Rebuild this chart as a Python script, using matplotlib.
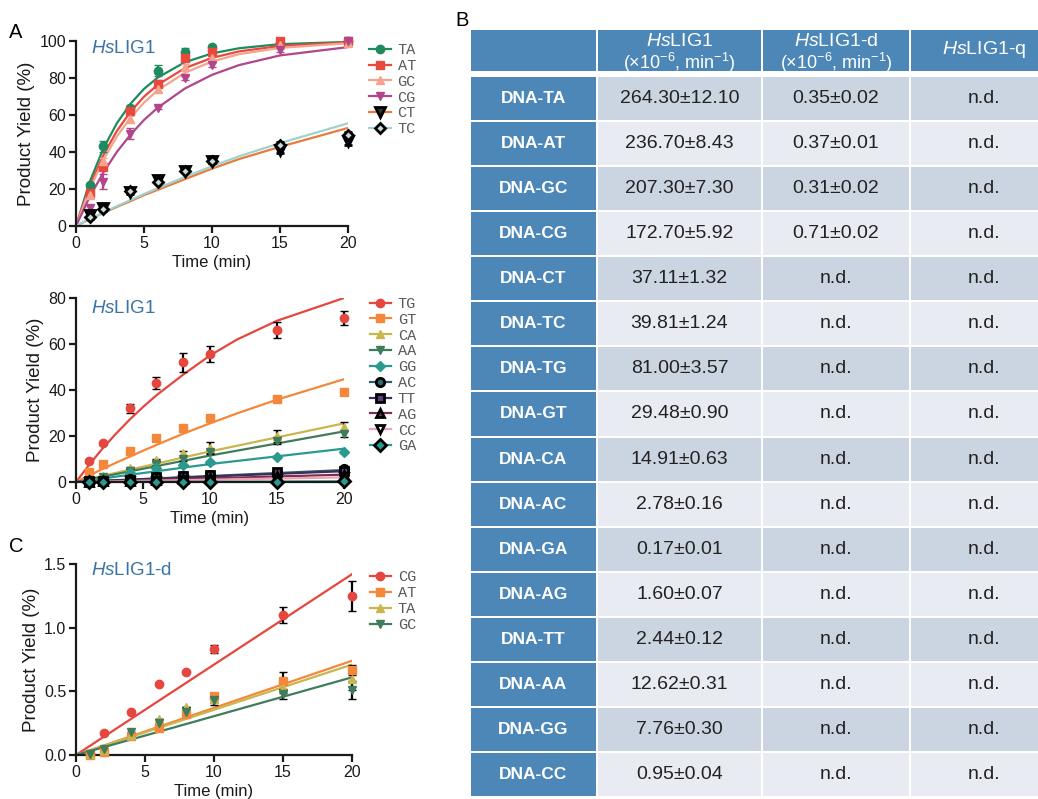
import matplotlib
matplotlib.use('Agg')
import matplotlib.pyplot as plt
from matplotlib.lines import Line2D
from matplotlib.patches import Rectangle

plt.rcParams['font.family'] = ['Liberation Sans', 'DejaVu Sans']
plt.rcParams['mathtext.fontset'] = 'custom'
plt.rcParams['mathtext.rm'] = 'Liberation Sans'
plt.rcParams['mathtext.it'] = 'Liberation Sans:italic'
plt.rcParams['mathtext.bf'] = 'Liberation Sans:bold'

# ---------------- data ----------------
time = [1, 2, 4, 6, 8, 10, 15, 20]
curve_t = [0, 1, 2, 3, 4, 5, 6, 8, 10, 12, 15, 20]
line_t = [0, 10, 20]

# panel A (top): HsLIG1, Watson-Crick + CT/TC
a1_names = ['TA', 'AT', 'GC', 'CG', 'CT', 'TC']
a1_yield = [
    [22, 43, 64, 84, 94, 97, 99, 100],
    [18, 32, 62, 77, 91, 94, 100, 100],
    [17, 35, 58, 74, 86, 91, 98, 99],
    [10, 24, 50, 64, 80, 87, 95, 100],
    [6, 9.5, 18.5, 25, 30, 35, 41, 46],
    [5, 9, 19, 24, 30, 35, 44, 49],
]
a1_err = [
    [1, 3, 1.5, 3, 2, 1, 1, 0.5],
    [1, 1.5, 2, 2, 1.5, 1, 1, 0.5],
    [1, 1.5, 2, 1.5, 1.5, 1, 1, 0.5],
    [1.5, 4, 3, 1, 1, 1, 1, 0.5],
    [1, 1, 1, 1, 1, 1, 1.5, 2],
    [1, 1, 1, 1, 1, 1, 1.5, 2],
]
a1_fit = [
    [0, 23.7, 41.7, 55.5, 66.0, 74.1, 80.2, 88.5, 93.3, 96.1, 98.3, 99.5],
    [0, 21.3, 38.1, 51.3, 61.7, 69.9, 76.3, 85.3, 90.9, 94.4, 97.3, 99.2],
    [0, 19.7, 35.6, 48.3, 58.5, 66.7, 73.3, 82.8, 88.9, 92.9, 96.3, 98.8],
    [0, 15.6, 28.8, 40.0, 49.3, 57.3, 63.9, 74.3, 81.7, 87.0, 92.2, 96.7],
    [0, 3.6, 7.0, 10.3, 13.4, 16.7, 19.5, 25.3, 31.0, 36.2, 42.8, 53.0],
    [0, 3.7, 7.3, 10.7, 14.0, 17.3, 20.4, 26.5, 32.3, 37.7, 44.8, 55.5],
]

# panel A (bottom): HsLIG1, mismatches
a2_names = ['TG', 'GT', 'CA', 'AA', 'GG', 'AC', 'TT', 'AG', 'CC', 'GA']
a2_yield = [
    [9.3, 16.8, 32, 43, 52, 55.7, 66, 71.3],
    [4.2, 8, 13.5, 19, 23.5, 28, 36, 39],
    [1, 2.5, 6, 9.5, 12.5, 15, 20, 24],
    [0.5, 2, 5, 8, 10, 13, 18, 21],
    [0.5, 1.5, 4, 6, 7.5, 8.5, 11, 13],
    [0.3, 0.6, 1.2, 2, 2.5, 3, 4, 5.5],
    [0.3, 0.5, 1, 2, 2.5, 3.2, 4.5, 4.8],
    [0.2, 0.3, 0.6, 1, 1.5, 1.8, 2.5, 3.2],
    [0.1, 0.2, 0.3, 0.6, 0.8, 1, 1.5, 2],
    [0, 0, 0.1, 0.1, 0.1, 0.2, 0.2, 0.3],
]
a2_err = [
    [0.5, 0.5, 2, 2.7, 4, 3.5, 3.5, 3],
    [0.5, 0.5, 0.5, 0.5, 0.5, 0.5, 0.5, 0.5],
    [0.3, 0.3, 0.5, 0.5, 1, 2.5, 2.5, 2],
    [0.3, 0.3, 0.5, 0.5, 1, 1, 1.5, 1.5],
    [0.3, 0.3, 0.3, 0.3, 0.5, 0.5, 0.5, 0.5],
    [0.3, 0.3, 0.3, 0.3, 0.5, 0.5, 0.8, 0.8],
    [0.3, 0.3, 0.3, 0.3, 0.5, 0.5, 0.8, 0.8],
    [0.2, 0.2, 0.2, 0.2, 0.3, 0.3, 0.5, 0.5],
    [0.1, 0.1, 0.1, 0.1, 0.2, 0.2, 0.3, 0.3],
    [0, 0, 0, 0, 0, 0, 0, 0],
]
a2_fit_tg = [0, 7.6, 14.7, 21.1, 27.1, 32.6, 37.7, 46.7, 55.0, 61.9, 70.1, 80.0]
a2_fit_gt = [0, 2.9, 5.7, 8.4, 11.0, 13.6, 16.1, 21.0, 25.5, 29.8, 35.8, 44.7]
a2_lines = [
    [0, 13.3, 25.5],
    [0, 11.5, 22],
    [0, 7.8, 14.5],
    [0, 2.6, 5.2],
    [0, 2.4, 4.7],
    [0, 1.6, 3.2],
    [0, 1.0, 2.0],
    [0, 0.1, 0.3],
]

# panel C: HsLIG1-d
c_names = ['CG', 'AT', 'TA', 'GC']
c_yield = [
    [0.01, 0.17, 0.34, 0.56, 0.65, 0.83, 1.10, 1.25],
    [0.0, 0.02, 0.15, 0.21, 0.32, 0.46, 0.58, 0.67],
    [0.01, 0.04, 0.16, 0.28, 0.38, 0.44, 0.53, 0.60],
    [0.01, 0.05, 0.18, 0.25, 0.34, 0.43, 0.48, 0.51],
]
c_err = [
    [0, 0, 0, 0, 0, 0.03, 0.06, 0.12],
    [0, 0, 0, 0, 0, 0.02, 0.07, 0.04],
    [0, 0, 0, 0, 0, 0.02, 0.04, 0.09],
    [0, 0, 0, 0, 0, 0.04, 0.04, 0.07],
]
c_lines = [[0, 0.71, 1.42], [0, 0.37, 0.74], [0, 0.355, 0.71], [0, 0.305, 0.61]]

# panel B: rate constants
b_rows = ['DNA-TA', 'DNA-AT', 'DNA-GC', 'DNA-CG', 'DNA-CT', 'DNA-TC', 'DNA-TG',
          'DNA-GT', 'DNA-CA', 'DNA-AC', 'DNA-GA', 'DNA-AG', 'DNA-TT', 'DNA-AA',
          'DNA-GG', 'DNA-CC']
lig1_k = [264.30, 236.70, 207.30, 172.70, 37.11, 39.81, 81.00, 29.48, 14.91,
          2.78, 0.17, 1.60, 2.44, 12.62, 7.76, 0.95]
lig1_sd = [12.10, 8.43, 7.30, 5.92, 1.32, 1.24, 3.57, 0.90, 0.63, 0.16, 0.01,
           0.07, 0.12, 0.31, 0.30, 0.04]
lig1d_k = [0.35, 0.37, 0.31, 0.71]
lig1d_sd = [0.02, 0.01, 0.02, 0.02]

# ---------------- styles ----------------
a1_style = [
    dict(color='#1f8a5e', marker='o', mfc='#1f8a5e', mec='#1f8a5e', ecol='#1f8a5e'),
    dict(color='#e8483e', marker='s', mfc='#e8483e', mec='#e8483e', ecol='#e8483e'),
    dict(color='#f4a48e', marker='^', mfc='#f4a48e', mec='#f4a48e', ecol='#f4a48e'),
    dict(color='#b2468c', marker='v', mfc='#b2468c', mec='#b2468c', ecol='#b2468c'),
    dict(color='#e97b3c', marker='v', mfc='#333333', mec='black', ecol='black'),
    dict(color='#9fd2cf', marker='D', mfc='#cfd8d8', mec='black', ecol='black'),
]
a2_style = [
    dict(color='#e5473e', marker='o', mfc='#e5473e', mec='#e5473e'),
    dict(color='#f5873a', marker='s', mfc='#f5873a', mec='#f5873a'),
    dict(color='#c9b64c', marker='^', mfc='#c9b64c', mec='#c9b64c'),
    dict(color='#3f7c5c', marker='v', mfc='#3f7c5c', mec='#3f7c5c'),
    dict(color='#2b9a8e', marker='D', mfc='#2b9a8e', mec='#2b9a8e'),
    dict(color='#2e5e6c', marker='o', mfc='#2e6e6a', mec='black'),
    dict(color='#3b2d5c', marker='s', mfc='#5a3f7a', mec='black'),
    dict(color='#7b3050', marker='^', mfc='#7b3050', mec='black'),
    dict(color='#efa1b6', marker='v', mfc='white', mec='black'),
    dict(color='#2b9a8e', marker='D', mfc='#2b9a8e', mec='black'),
]
c_style = [a2_style[0], a2_style[1], a2_style[2], a2_style[3]]

title_col = '#3a74a5'
W, H = 1038, 799

fig = plt.figure(figsize=(W / 100, H / 100), dpi=100)


def px_axes(x0, x1, ytop, ybot):
    return fig.add_axes([x0 / W, 1 - ybot / H, (x1 - x0) / W, (ybot - ytop) / H])


def style_axes(ax, ymax, yticks, labels):
    ax.set_xlim(0, 20)
    ax.set_ylim(0, ymax)
    for s in ['top', 'right']:
        ax.spines[s].set_visible(False)
    for s in ['left', 'bottom']:
        ax.spines[s].set_linewidth(1.6)
        ax.spines[s].set_color('#1a1a1a')
    ax.set_xticks([0, 5, 10, 15, 20])
    ax.set_yticks(yticks)
    ax.set_yticklabels(labels)
    ax.tick_params(direction='out', length=5, width=1.6, labelsize=11.5, pad=2,
                   colors='#1a1a1a')
    ax.set_xlabel('Time (min)', fontsize=12, labelpad=3, color='#1a1a1a')
    ax.set_ylabel('Product Yield (%)', fontsize=13.5, labelpad=3, color='#1a1a1a')


def add_legend(ax, names, styles, x, y, ms_list):
    handles = []
    for st, ms in zip(styles, ms_list):
        handles.append(Line2D([], [], color=st['color'], lw=1.6, marker=st['marker'],
                              mfc=st['mfc'], mec=st['mec'], ms=ms,
                              mew=2 if st['mec'] == 'black' else 1))
    leg = ax.legend(handles, names, loc='upper left', bbox_to_anchor=(x, y),
                    frameon=False, borderpad=0, handlelength=1.4,
                    handletextpad=0.45, labelspacing=0.12,
                    prop={'family': 'Liberation Mono', 'size': 11})
    for t in leg.get_texts():
        t.set_color('#5a5a5a')


# ---- panel A top ----
ax1 = px_axes(76, 348, 41, 226)
style_axes(ax1, 100, [0, 20, 40, 60, 80, 100], ['0', '20', '40', '60', '80', '100'])
for fit, st in zip(a1_fit, a1_style):
    ax1.plot(curve_t, fit, color=st['color'], lw=1.6, zorder=2)
ms1 = [6, 6, 6, 6, 6.5, 5]
for ys, er, st, ms in zip(a1_yield, a1_err, a1_style, ms1):
    ax1.errorbar(time, ys, yerr=er, fmt=st['marker'], mfc=st['mfc'], mec=st['mec'],
                 ms=ms, mew=2 if st['mec'] == 'black' else 1, ecolor=st['ecol'],
                 elinewidth=1.6, capsize=3, capthick=1.6, clip_on=False, zorder=3)
ax1.text(0.055, 0.96, r'$\mathit{Hs}$LIG1', transform=ax1.transAxes, color=title_col,
         fontsize=13.5, va='center')
add_legend(ax1, a1_names, a1_style, 1.05, 1.03, ms1)

# ---- panel A bottom ----
ax2 = px_axes(76, 344, 298, 482)
style_axes(ax2, 80, [0, 20, 40, 60, 80], ['0', '20', '40', '60', '80'])
ax2.plot(curve_t, a2_fit_tg, color=a2_style[0]['color'], lw=1.6, zorder=2)
ax2.plot(curve_t, a2_fit_gt, color=a2_style[1]['color'], lw=1.6, zorder=2)
for ln, st in zip(a2_lines, a2_style[2:]):
    ax2.plot(line_t, ln, color=st['color'], lw=1.6, zorder=2)
ms2 = [6, 6, 6, 6, 5, 6, 6, 6, 6, 6]
for ys, er, st, ms in zip(a2_yield, a2_err, a2_style, ms2):
    ax2.errorbar(time, ys, yerr=er, fmt=st['marker'], mfc=st['mfc'], mec=st['mec'],
                 ms=ms, mew=2 if st['mec'] == 'black' else 1, ecolor='black',
                 elinewidth=1.6, capsize=3, capthick=1.6, clip_on=False, zorder=3)
ax2.text(0.055, 0.945, r'$\mathit{Hs}$LIG1', transform=ax2.transAxes, color=title_col,
         fontsize=13.5, va='center')
add_legend(ax2, a2_names, a2_style, 1.067, 1.047, ms2)

# ---- panel C ----
ax3 = px_axes(76, 352, 564, 755)
style_axes(ax3, 1.5, [0, 0.5, 1.0, 1.5], ['0.0', '0.5', '1.0', '1.5'])
for ln, st in zip(c_lines, c_style):
    ax3.plot(line_t, ln, color=st['color'], lw=1.6, zorder=2)
for ys, er, st in zip(c_yield, c_err, c_style):
    ax3.errorbar(time, ys, yerr=er, fmt=st['marker'], mfc=st['mfc'], mec=st['mec'],
                 ms=6, mew=1, ecolor='black', elinewidth=1.6, capsize=3,
                 capthick=1.6, clip_on=False, zorder=3)
ax3.text(0.055, 0.965, r'$\mathit{Hs}$LIG1-d', transform=ax3.transAxes, color=title_col,
         fontsize=13.5, va='center')
add_legend(ax3, c_names, c_style, 1.036, 1.006, [6, 6, 6, 6])

# ---- panel B: table ----
axt = px_axes(470, 1038, 30, 797)
axt.set_xlim(0, 568)
axt.set_ylim(767, 0)
axt.axis('off')

blue = '#4d87b7'
row_dark = '#cbd5e2'
row_light = '#e8ebf1'
col_edges = [0, 127, 292, 440, 600]
col_centres = [63.5, 209.5, 366, 514]
head_h = 41
row_top0 = 46
row_h = (767 - row_top0) / len(b_rows)

for c in range(4):
    axt.add_patch(Rectangle((col_edges[c] + 1, 0), col_edges[c + 1] - col_edges[c] - 2,
                            head_h, color=blue, lw=0))
head1 = [r'$\mathit{Hs}$LIG1', r'$\mathit{Hs}$LIG1-d']
for c, lab in zip([1, 2], head1):
    axt.text(col_centres[c], 12, lab, color='white', fontsize=14, ha='center', va='center')
    axt.text(col_centres[c], 33, r'(×10$^{-6}$, min$^{-1}$)', color='white',
             fontsize=13, ha='center', va='center')
axt.text(col_centres[3], 19, r'$\mathit{Hs}$LIG1-q', color='white', fontsize=14,
         ha='center', va='center')

for r, name in enumerate(b_rows):
    y0 = row_top0 + r * row_h
    yc = y0 + row_h / 2
    shade = row_dark if r % 2 == 0 else row_light
    for c in range(4):
        col = blue if c == 0 else shade
        axt.add_patch(Rectangle((col_edges[c] + 1, y0 + 1),
                                col_edges[c + 1] - col_edges[c] - 2, row_h - 2,
                                color=col, lw=0))
    axt.text(col_centres[0], yc, name, color='white', fontsize=12.5, fontweight='bold',
             ha='center', va='center')
    axt.text(col_centres[1], yc, f'{lig1_k[r]:.2f}±{lig1_sd[r]:.2f}', color='#222222',
             fontsize=14, ha='center', va='center')
    if r < len(lig1d_k):
        txt = f'{lig1d_k[r]:.2f}±{lig1d_sd[r]:.2f}'
    else:
        txt = 'n.d.'
    axt.text(col_centres[2], yc, txt, color='#222222', fontsize=14, ha='center',
             va='center')
    axt.text(col_centres[3], yc, 'n.d.', color='#222222', fontsize=14, ha='center',
             va='center')

# panel letters
fig.text(9 / W, 1 - 32 / H, 'A', fontsize=14.5, va='center', ha='left')
fig.text(455 / W, 1 - 20 / H, 'B', fontsize=14.5, va='center', ha='left')
fig.text(9 / W, 1 - 546 / H, 'C', fontsize=14.5, va='center', ha='left')

fig.savefig('out.png', dpi=100, facecolor='white')
